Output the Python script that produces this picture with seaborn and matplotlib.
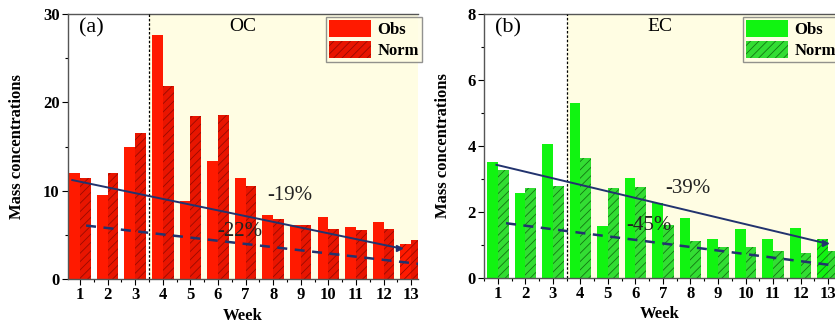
import numpy as np
import pandas as pd
import matplotlib
matplotlib.use("Agg")
import matplotlib.pyplot as plt
import seaborn as sns
from matplotlib.ticker import MultipleLocator
from matplotlib.patches import Patch

weeks = list(range(1, 14))
oc_obs = [12.0, 9.5, 15.0, 27.6, 8.8, 13.4, 11.4, 7.3, 6.1, 7.05, 5.9, 6.4, 4.0]
oc_norm = [11.4, 12.0, 16.5, 21.8, 18.4, 18.6, 10.5, 6.8, 6.1, 5.65, 5.6, 5.65, 4.4]
ec_obs = [3.51, 2.59, 4.07, 5.29, 1.58, 3.04, 2.28, 1.83, 1.19, 1.48, 1.19, 1.51, 1.19]
ec_norm = [3.28, 2.72, 2.78, 3.65, 2.72, 2.76, 1.61, 1.13, 0.95, 0.94, 0.83, 0.76, 0.82]

# trend lines (start/end)
oc_obs_trend_x = [0.72, 12.57]
oc_obs_trend_y = [11.2, 3.5]
oc_norm_trend_x = [1.22, 13.3]
oc_norm_trend_y = [6.05, 1.7]
ec_obs_trend_x = [0.95, 12.87]
ec_obs_trend_y = [3.43, 1.06]
ec_norm_trend_x = [1.3, 13.3]
ec_norm_trend_y = [1.66, 0.37]

oc_labels = ["-19%", "-22%"]
ec_labels = ["-39%", "-45%"]

plt.rcParams['font.family'] = ['Liberation Serif', 'DejaVu Serif']
plt.rcParams['hatch.linewidth'] = 0.6

fig = plt.figure(figsize=(8.35, 3.28), dpi=100)
ax1 = fig.add_axes([68/835, 49/328, (418-68)/835, (279-14)/328])
ax2 = fig.add_axes([484/835, 50/328, (835-484)/835, (278-14)/328])


def panel(ax, obs, norm, c_obs, c_norm, hatch_col, ymax, ymajor, yminor, xlim,
          tx1, ty1, tx2, ty2, labels, lab_pos, tag, name, ylpad):
    df = pd.DataFrame({
        "Week": weeks * 2,
        "value": list(obs) + list(norm),
        "type": ["Obs"] * 13 + ["Norm"] * 13,
    })
    ax.axvspan(3.5, 14, color="#FFFDE3", zorder=0, lw=0)
    sns.barplot(data=df, x="Week", y="value", hue="type", native_scale=True,
                palette={"Obs": c_obs, "Norm": c_norm}, width=0.78,
                saturation=1, ax=ax, legend=False, zorder=2, gap=0)
    n = len(weeks)
    for i, p in enumerate(ax.patches):
        p.set_linewidth(0)
        if i >= n:
            p.set_hatch("////")
            p.set_edgecolor(hatch_col)
    ax.axvline(3.5, color="black", ls=(0, (2, 1.5)), lw=0.9, zorder=3)
    ax.plot(tx1, ty1, color="#22336e", lw=1.4, zorder=4)
    ax.plot(tx1[-1], ty1[-1], marker=">", color="#22336e", ms=4, zorder=4)
    ax.plot(tx2, ty2, color="#22336e", lw=1.8, ls=(0, (4, 3)), zorder=4)
    ax.text(lab_pos[0][0], lab_pos[0][1], labels[0], fontsize=15, color="#222222",
            ha="center", va="center", zorder=5)
    ax.text(lab_pos[1][0], lab_pos[1][1], labels[1], fontsize=15, color="#222222",
            ha="center", va="center", zorder=5)
    ax.text(0.03, 0.985, tag, transform=ax.transAxes, fontsize=16, va="top", ha="left")
    ax.text(0.5, 0.985, name, transform=ax.transAxes, fontsize=14, va="top", ha="center")

    ax.set_xlim(*xlim)
    ax.set_ylim(0, ymax)
    ax.set_xticks(weeks)
    ax.set_xticklabels([str(w) for w in weeks], fontweight="bold", fontsize=12)
    ax.xaxis.set_minor_locator(MultipleLocator(0.5))
    ax.yaxis.set_major_locator(MultipleLocator(ymajor))
    ax.yaxis.set_minor_locator(MultipleLocator(yminor))
    for lab in ax.get_yticklabels():
        lab.set_fontweight("bold")
        lab.set_fontsize(12)
    ax.tick_params(axis="both", which="major", direction="out", length=4, width=0.8, pad=2)
    ax.tick_params(axis="both", which="minor", direction="out", length=2, width=0.8)
    ax.set_xlabel("Week", fontweight="bold", fontsize=12, labelpad=3)
    ax.set_ylabel("Mass concentrations", fontweight="bold", fontsize=12, labelpad=ylpad)
    for s in ["left", "bottom", "top"]:
        ax.spines[s].set_color("#555555")
        ax.spines[s].set_linewidth(1.0)
    ax.spines["right"].set_visible(False)

    handles = [Patch(facecolor=c_obs, edgecolor="none", label="Obs"),
               Patch(facecolor=c_norm, edgecolor=hatch_col, hatch="////", lw=0, label="Norm")]
    leg = ax.legend(handles=handles, loc="upper right", bbox_to_anchor=(1.012, 0.99),
                    prop={"weight": "bold", "size": 12}, frameon=True, fancybox=False,
                    handlelength=2.5, handleheight=1.2, handletextpad=0.4,
                    borderpad=0.2, labelspacing=0.15, borderaxespad=0.0)
    leg.get_frame().set_edgecolor("#777777")
    leg.get_frame().set_facecolor("#FFFDE3")
    leg.get_frame().set_linewidth(1.0)
    leg.set_zorder(6)


panel(ax1, oc_obs, oc_norm, "#FF1A00", "#E81500", "#9A0A00", 30, 10, 5, (0.565, 13.25),
      oc_obs_trend_x, oc_obs_trend_y, oc_norm_trend_x, oc_norm_trend_y,
      oc_labels, [(8.6, 9.5), (6.8, 5.4)], "(a)", "OC", 13)
panel(ax2, ec_obs, ec_norm, "#11F411", "#33DD33", "#117711", 8, 2, 1, (0.5, 13.25),
      ec_obs_trend_x, ec_obs_trend_y, ec_norm_trend_x, ec_norm_trend_y,
      ec_labels, [(7.9, 2.7), (6.5, 1.6)], "(b)", "EC", 12)

fig.savefig("out.png", dpi=100)
